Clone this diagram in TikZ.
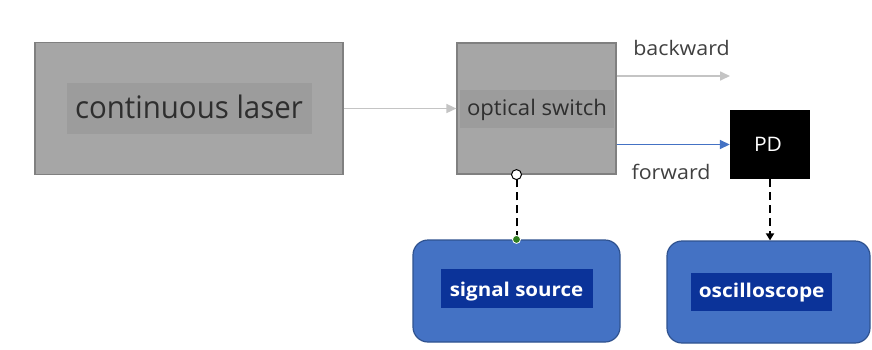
\documentclass[tikz,border=0pt]{standalone}
\usepackage{fontspec}
\setmainfont{Open Sans}
\usetikzlibrary{arrows.meta}
\definecolor{boxgrey}{HTML}{A6A6A6}
\definecolor{boxedge}{HTML}{808080}
\definecolor{bandgrey}{HTML}{9C9C9C}
\definecolor{txtgrey}{HTML}{2E2E2E}
\definecolor{lbltxt}{HTML}{404040}
\definecolor{lightarrow}{HTML}{C4C4C4}
\definecolor{bluefill}{HTML}{4472C4}
\definecolor{blueedge}{HTML}{2F528F}
\definecolor{blueband}{HTML}{0B3399}
\definecolor{dotgreen}{HTML}{2E7D1E}
% font size and horizontal stretch in one go
\newcommand{\txtsize}[2]{\fontsize{#1}{#1}\selectfont\addfontfeature{FakeStretch=#2}}
\begin{document}
\begin{tikzpicture}[x=1pt,y=-1pt,
  greybox/.style={draw=boxedge,line width=1.2pt,fill=boxgrey,rectangle,inner sep=0pt},
  greyband/.style={fill=bandgrey,rectangle,inner sep=0pt},
  bluebox/.style={draw=blueedge,line width=1.2pt,fill=bluefill,rectangle,rounded corners=15pt,inner sep=0pt},
  blueband/.style={fill=blueband,rectangle,inner sep=0pt},
  bandtxt/.style={anchor=base,inner sep=0pt,text=txtgrey},
  whitetxt/.style={anchor=base,inner sep=0pt,text=white},
  lightline/.style={draw=lightarrow,line width=1.6pt,-{Triangle[length=10pt,width=9pt]}},
  dashline/.style={draw=black,line width=2pt,dash pattern=on 8pt off 5pt},
  lbl/.style={anchor=base,text=lbltxt,font=\txtsize{20}{1.07},inner sep=0pt}]
\useasboundingbox[fill=white] (0,0) rectangle (872,349);

% light source
\node[greybox,minimum width=308pt,minimum height=132pt] (laser) at (189,108.5) {};
\node[greyband,minimum width=245pt,minimum height=51pt] (laserband) at (189,108.5) {};
\node[bandtxt,font=\txtsize{31}{0.95}] (lasertxt) at (189,118.3) {continuous laser};

% switch
\node[greybox,minimum width=159pt,minimum height=131pt] (switch) at (536.5,108.5) {};
\node[greyband,minimum width=154pt,minimum height=38pt] (switchband) at (537,109) {};
\node[bandtxt,font=\txtsize{21.5}{1.03}] (switchtxt) at (537,115.3) {optical switch};

% detector
\node[fill=black,rectangle,inner sep=0pt,minimum width=80pt,minimum height=69pt] (pd) at (770,144.5) {};
\node[whitetxt,font=\txtsize{20}{1.05}] (pdtxt) at (768,151) {PD};

% instruments
\node[bluebox,minimum width=207pt,minimum height=102pt] (sig) at (516.5,291) {};
\node[blueband,minimum width=152pt,minimum height=39pt] (sigband) at (517,288.5) {};
\node[whitetxt,font=\txtsize{19}{1.08}\bfseries] (sigtxt) at (516.5,296) {signal source};
\node[bluebox,minimum width=203pt,minimum height=102pt] (osc) at (768.5,292) {};
\node[blueband,minimum width=141pt,minimum height=38pt] (oscband) at (761.5,292) {};
\node[whitetxt,font=\txtsize{19}{1.1}\bfseries] (osctxt) at (761.7,297) {oscilloscope};

% optical paths
\draw[lightline] (laser.east) -- (switch.west);
\coordinate (bwend) at (730,76);
\draw[lightline] (switch.east |- bwend) -- (bwend);
\node[lbl] (bwlbl) at (681.5,55) {backward};
\draw[draw=bluefill,line width=1.6pt,-{Triangle[length=10pt,width=9pt]}] (switch.east |- pd.west) -- (pd.west);
\node[lbl] (fwlbl) at (671,179) {forward};

% electrical links
\coordinate (modin) at (sig.north |- switch.south);
\draw[dashline,-{Triangle[length=6pt,width=8pt]}] (sig.north) -- ([yshift=5.5pt]modin);
\node[circle,draw=black,fill=white,line width=1pt,minimum size=10pt,inner sep=0pt] (port) at (modin) {};
\node[circle,fill=dotgreen,draw=white,line width=0.8pt,minimum size=8pt,inner sep=0pt] (sigport) at (sig.north) {};
\draw[dashline,-{Triangle[length=7pt,width=8pt]}] (pd.south) -- (pd.south |- osc.north);
\end{tikzpicture}
\end{document}
